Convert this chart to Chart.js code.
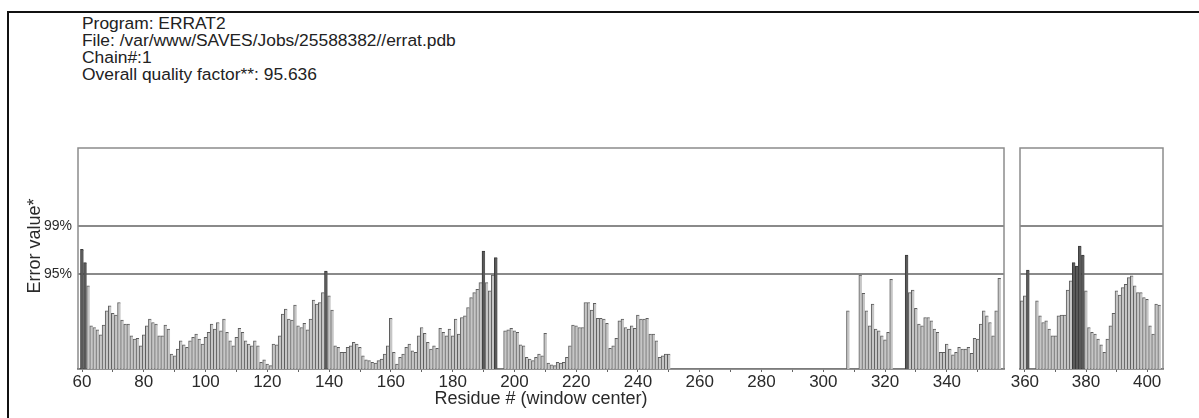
<!DOCTYPE html>
<html>
<head>
<meta charset="utf-8">
<script src="https://cdn.jsdelivr.net/npm/chart.js@4.4.1/dist/chart.umd.min.js"></script>
<style>
  html, body { margin: 0; padding: 0; background: #fff; }
  #page { position: relative; width: 1199px; height: 418px; overflow: hidden; }
  #frame { position: absolute; left: 7px; top: 11px; width: 1300px; height: 500px;
           border-left: 2px solid #111; border-top: 2px solid #111; }
  #header { position: absolute; left: 82px; top: 15px; font: 17.4px/17px "Liberation Sans", Arial, sans-serif; color: #222; }
  #leftChart { position: absolute; left: 0; top: 0; }
  #rightChart { position: absolute; left: 1008px; top: 0; }
</style>
</head>
<body>
<div id="page">
  <div id="frame"></div>
  <div id="header">
    <div>Program: ERRAT2</div>
    <div>File: /var/www/SAVES/Jobs/25588382//errat.pdb</div>
    <div>Chain#:1</div>
    <div>Overall quality factor**: 95.636</div>
  </div>
  <canvas id="leftChart" width="1012" height="418"></canvas>
  <canvas id="rightChart" width="191" height="418"></canvas>
</div>
<script>
// error value thresholds drawn as the 95% / 99% lines
const limits = [11.38, 17.19]
const limitLabels = ["95%", "99%"]
const yMax = 26.6

// window centre residues -> error value (null = no window)
const seg1Start = 60
const seg1Values = [
  14.4, 12.8, 10.0, 5.2, 5.0, 4.7, 4.1, 5.3, 7.0, 7.6,
  6.7, 6.5, 8.0, 5.9, 5.4, 5.4, 4.0, 3.6, 3.7, 2.8,
  4.1, 5.2, 6.0, 5.6, 5.4, 4.0, 4.0, 5.3, 4.8, 1.8,
  1.6, 2.4, 3.4, 2.9, 2.6, 3.4, 3.8, 4.2, 3.6, 3.0,
  3.8, 4.4, 5.4, 4.8, 5.6, 4.6, 6.0, 4.4, 3.4, 2.8,
  3.8, 4.9, 4.4, 3.4, 3.0, 2.8, 3.4, 2.8, 0.8, 1.1,
  0.6, 0.4, 3.0, 2.9, 4.0, 6.6, 7.2, 6.0, 5.9, 7.7,
  5.2, 5.0, 5.5, 4.7, 6.0, 8.3, 7.8, 8.0, 9.2, 11.8,
  8.8, 7.1, 2.8, 2.6, 2.0, 2.0, 2.6, 2.8, 3.2, 3.0,
  2.6, 1.6, 1.1, 1.0, 0.8, 0.7, 1.0, 1.2, 1.8, 2.8,
  6.1, 2.0, 0.6, 1.4, 1.8, 2.6, 3.0, 2.2, 2.0, 4.0,
  5.0, 4.3, 3.2, 2.4, 2.8, 2.5, 4.9, 4.4, 4.0, 4.8,
  4.0, 6.0, 4.2, 6.2, 6.4, 7.4, 8.6, 9.2, 9.6, 10.4,
  14.2, 10.4, 9.4, 11.3, 13.4, null, null, 4.6, 4.7, 4.9,
  4.6, 4.4, 2.9, 2.8, 1.4, 1.2, 1.0, 1.4, 1.8, 1.6,
  4.3, 0.7, 0.5, 0.4, 0.8, 0.7, 0.8, 1.4, 2.8, 5.3,
  5.2, 5.0, 5.0, 8.0, 8.0, 7.1, 7.9, 6.1, 6.1, 6.0,
  5.5, 2.5, 2.8, 3.7, 5.8, 6.0, 5.0, 4.8, 5.2, 4.9,
  6.5, 6.0, 6.0, 6.1, 4.2, 4.2, 3.4, 1.4, 1.6, 1.8,
  1.8
]

const seg2Start = 308
const seg2Values = [
  7.0, null, null, null, 11.3, 9.1, 7.0, 5.2, 7.8, 4.8,
  4.6, 4.0, 3.5, 4.4, 10.8, null, null, null, null, 13.7,
  9.2, 9.5, 7.3, 5.4, 5.2, 6.2, 6.2, 5.8, 4.8, 4.4,
  2.0, 2.0, 3.0, 2.4, 1.7, 2.0, 2.6, 2.4, 2.4, 2.6,
  1.9, 3.7, 3.6, 5.4, 7.0, 6.4, 5.6, 4.0, 7.0, 10.9
]

const seg3Start = 359
const seg3Values = [
  8.2, 8.8, 11.9, null, null, 8.2, 6.4, 5.6, 5.8, 4.8,
  4.0, 4.0, 6.4, 6.5, 6.5, 9.5, 10.6, 12.8, 12.4, 14.8,
  13.7, 9.4, 5.0, 4.4, 4.2, 3.6, 2.9, 2.0, 3.6, 5.2,
  6.7, 9.4, 8.9, 9.8, 10.2, 11.0, 11.2, 10.0, 9.2, 9.2,
  8.6, 8.4, 5.2, 4.2, 7.8, 7.7
]

// residue range of each panel
const leftRange = [58.7, 358.5]
const rightRange = [358.4, 405.2]

const toPoints = (start, values) =>
  values.map((v, i) => ({ x: start + i, y: v })).filter(p => p.y !== null)

Chart.defaults.font.family = "'Liberation Sans', Arial, sans-serif"
Chart.defaults.color = "#2a2a2a"

const panelFrame = {
  id: "panelFrame",
  beforeDatasetsDraw(chart) {
    const { ctx, chartArea: a } = chart
    ctx.save()
    ctx.strokeStyle = "#8c8c8c"
    ctx.lineWidth = 1.5
    ctx.strokeRect(a.left, a.top, a.right - a.left, a.bottom - a.top)
    ctx.restore()
  }
}

const sideLabel = {
  id: "sideLabel",
  afterDraw(chart) {
    if (chart.canvas.id !== "leftChart") return
    const { ctx } = chart
    ctx.save()
    ctx.translate(35, 246)
    ctx.rotate(-Math.PI / 2)
    ctx.font = "18px 'Liberation Sans', Arial, sans-serif"
    ctx.fillStyle = "#2a2a2a"
    ctx.textAlign = "center"
    ctx.textBaseline = "middle"
    ctx.fillText("Error value*", 0, 0)
    ctx.restore()
  }
}

function makePanel(canvasId, range, points, opts) {
  return new Chart(document.getElementById(canvasId), {
    type: "bar",
    data: {
      datasets: [{
        data: points,
        backgroundColor: c => (c.raw && c.raw.y > limits[0] ? "#5a5a5a" : "#c6c6c6"),
        borderColor: c => (c.raw && c.raw.y > limits[0] ? "#3a3a3a" : "#5e5e5e"),
        borderWidth: { top: 1, left: 1, right: 0, bottom: 0 },
        borderSkipped: false,
        barPercentage: 1,
        categoryPercentage: 1
      }]
    },
    options: {
      responsive: false,
      animation: false,
      layout: { padding: { top: 148, right: opts.padRight, bottom: 0, left: 0 } },
      plugins: { legend: { display: false }, tooltip: { enabled: false } },
      scales: {
        x: {
          type: "linear",
          offset: false,
          min: range[0],
          max: range[1],
          border: { color: "#4a4a4a", width: 1.5 },
          grid: { drawOnChartArea: false, tickLength: 3, color: "#666", offset: false },
          ticks: {
            stepSize: 10,
            includeBounds: false,
            autoSkip: false,
            maxRotation: 0,
            padding: 0,
            font: { size: 17 },
            callback: v => (v % 20 === 0 ? String(v) : "")
          },
          title: {
            display: opts.showTitle,
            text: "Residue # (window center)",
            font: { size: 18 },
            padding: { top: 0, bottom: 8 }
          },
          afterFit: s => {
            s.height = 49
            s.paddingLeft = 0
            s.paddingRight = 0
          }
        },
        y: {
          min: 0,
          max: yMax,
          border: { display: false },
          grid: { drawTicks: false, color: "#8a8a8a", lineWidth: 2 },
          afterBuildTicks: s => {
            s.ticks = limits.map(v => ({ value: v }))
          },
          ticks: {
            display: opts.showTicks,
            padding: 6,
            font: { size: 14 },
            callback: v => limitLabels[limits.indexOf(v)]
          },
          afterFit: s => {
            s.width = opts.yWidth
          }
        }
      }
    },
    plugins: [panelFrame, sideLabel]
  })
}

makePanel("leftChart", leftRange,
  toPoints(seg1Start, seg1Values).concat(toPoints(seg2Start, seg2Values)),
  { padRight: 8, showTitle: true, showTicks: true, yWidth: 78 })

makePanel("rightChart", rightRange, toPoints(seg3Start, seg3Values),
  { padRight: 36, showTitle: false, showTicks: false, yWidth: 12 })
</script>
</body>
</html>
